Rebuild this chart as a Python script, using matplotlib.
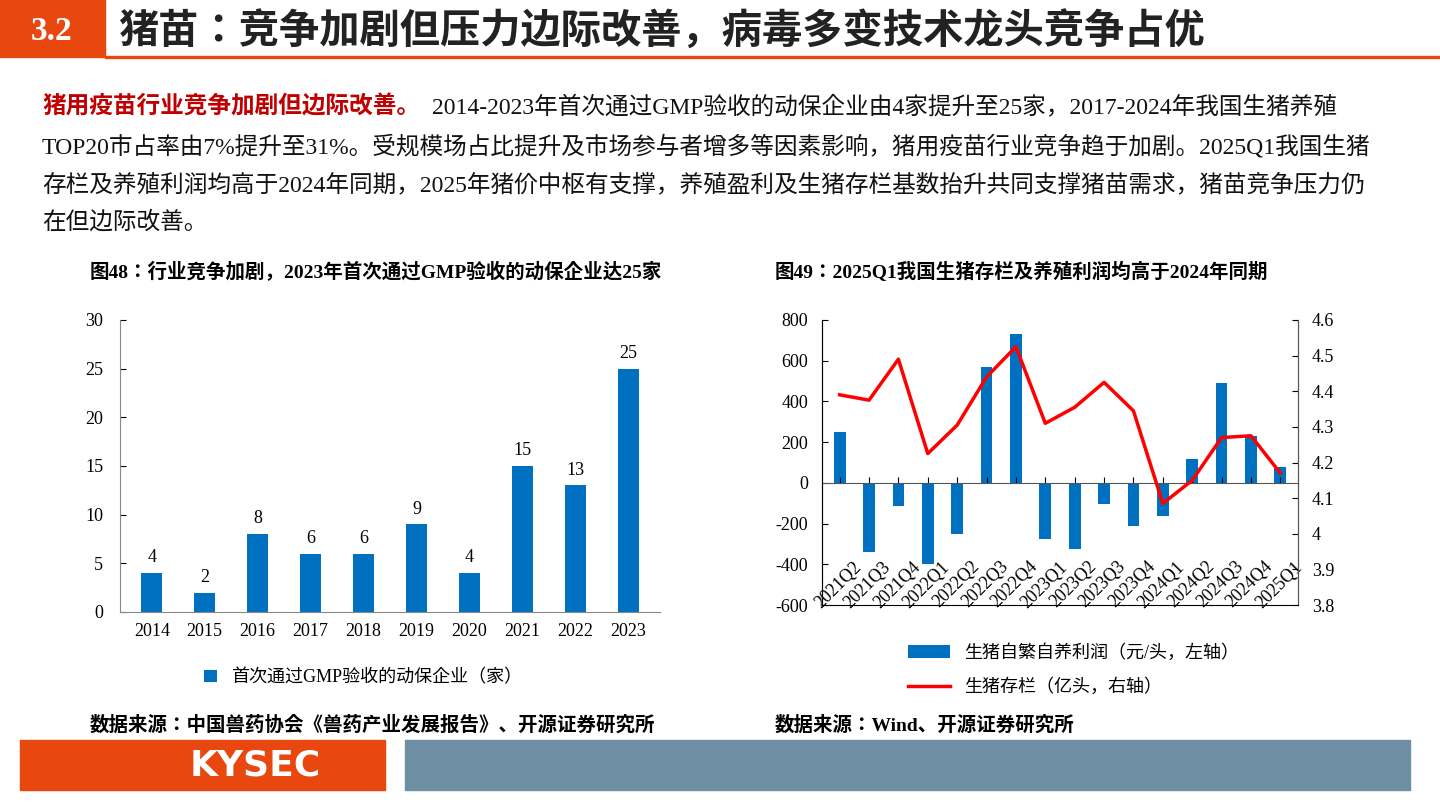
import matplotlib
matplotlib.use("Agg")
import matplotlib.pyplot as plt
from matplotlib.patches import Rectangle
from matplotlib import font_manager as fm
import numpy as np

cjk = None
for f in fm.fontManager.ttflist:
    if 'CJK' in f.name and 'SC' in f.name:
        cjk = f.name; break
if cjk is None:
    for f in fm.fontManager.ttflist:
        if 'CJK' in f.name:
            cjk = f.name; break
plt.rcParams['font.family'] = ['Liberation Serif', cjk]
plt.rcParams['axes.unicode_minus'] = False

years = ['2014','2015','2016','2017','2018','2019','2020','2021','2022','2023']
firms = [4, 2, 8, 6, 6, 9, 4, 15, 13, 25]

quarters = ['2021Q2','2021Q3','2021Q4','2022Q1','2022Q2','2022Q3','2022Q4','2023Q1',
            '2023Q2','2023Q3','2023Q4','2024Q1','2024Q2','2024Q3','2024Q4','2025Q1']
profit = [250, -340, -115, -400, -250, 570, 730, -275, -325, -105, -210, -165, 115, 490, 228, 80]
stock = [4.39, 4.375, 4.49, 4.225, 4.305, 4.44, 4.525, 4.31, 4.355, 4.425, 4.345, 4.085, 4.15, 4.27, 4.275, 4.17]

W, H = 1440, 810
fig = plt.figure(figsize=(14.4, 8.1), dpi=100)
def fx(x): return x / W
def fy(y): return 1 - y / H

ORANGE = '#E8470F'
BLUE = '#0070C0'
fig.add_artist(Rectangle((0, fy(57)), fx(105), 57 / H, transform=fig.transFigure, color=ORANGE))
fig.add_artist(Rectangle((fx(105), fy(58)), 1 - fx(105), 2 / H, transform=fig.transFigure, color=ORANGE))
fig.text(fx(52), fy(32), '3.2', color='white', fontsize=24, fontweight='bold', ha='center', va='center')
fig.text(fx(118), fy(33), '猪苗：竞争加剧但压力边际改善，病毒多变技术龙头竞争占优', fontsize=29,
         fontweight='bold', ha='left', va='center', color='#222222')

lines = [
 ('猪用疫苗行业竞争加剧但边际改善。', '2014-2023年首次通过GMP验收的动保企业由4家提升至25家，2017-2024年我国生猪养殖'),
 ('', 'TOP20市占率由7%提升至31%。受规模场占比提升及市场参与者增多等因素影响，猪用疫苗行业竞争趋于加剧。2025Q1我国生猪'),
 ('', '存栏及养殖利润均高于2024年同期，2025年猪价中枢有支撑，养殖盈利及生猪存栏基数抬升共同支撑猪苗需求，猪苗竞争压力仍'),
 ('', '在但边际改善。'),
]
ys = [107, 147, 185, 222]
for (red, rest), y in zip(lines, ys):
    if red:
        fig.text(fx(42), fy(y), red, color='#C00000', fontsize=17, fontweight='bold', va='center')
        fig.text(fx(432), fy(y), rest, fontsize=17, va='center', color='#111111')
    else:
        fig.text(fx(42), fy(y), rest, fontsize=17, va='center', color='#111111')

fig.text(fx(90), fy(272), '图48：行业竞争加剧，2023年首次通过GMP验收的动保企业达25家', fontsize=14, fontweight='bold', va='center')
fig.text(fx(775), fy(272), '图49：2025Q1我国生猪存栏及养殖利润均高于2024年同期', fontsize=14, fontweight='bold', va='center')
fig.text(fx(90), fy(725), '数据来源：中国兽药协会《兽药产业发展报告》、开源证券研究所', fontsize=14, fontweight='bold', va='center')
fig.text(fx(775), fy(725), '数据来源：Wind、开源证券研究所', fontsize=14, fontweight='bold', va='center')

fig.add_artist(Rectangle((fx(20), fy(790)), fx(365), 50 / H, transform=fig.transFigure, color=ORANGE))
fig.add_artist(Rectangle((fx(405), fy(790)), fx(1005), 50 / H, transform=fig.transFigure, color='#6E8FA3'))
fig.text(fx(255), fy(766), 'KYSEC', color='white', fontsize=26, fontweight='bold', ha='center', va='center',
         family='DejaVu Sans')

# left chart
ax1 = fig.add_axes([fx(120), fy(612), fx(540), (612 - 320) / H])
x = np.arange(len(years))
ax1.bar(x, firms, width=0.4, color=BLUE, label='首次通过GMP验收的动保企业（家）')
for xi, v in zip(x, firms):
    ax1.text(xi, v + 0.7, str(v), ha='center', va='bottom', fontsize=13)
ax1.set_ylim(0, 30)
ax1.set_yticks(range(0, 31, 5))
ax1.set_xlim(-0.6, len(years) - 0.4)
ax1.set_xticks(x)
ax1.set_xticklabels(years)
ax1.tick_params(labelsize=13, length=0, pad=8)
ax1.tick_params(axis='y', direction='in', length=4, pad=12)
for s in ['top', 'right']:
    ax1.spines[s].set_visible(False)
ax1.spines['left'].set_color('#888888')
ax1.spines['bottom'].set_color('#888888')
ax1.legend(loc='upper center', bbox_to_anchor=(0.45, -0.14), frameon=False, fontsize=13, handlelength=0.7)

# right chart
ax2 = fig.add_axes([fx(822), fy(605), fx(476), (605 - 320) / H])
q = np.arange(len(quarters))
ax2.bar(q, profit, width=0.4, color=BLUE, label='生猪自繁自养利润（元/头，左轴）')
ax2.set_ylim(-600, 800)
ax2.set_yticks(range(-600, 801, 200))
ax2.set_xlim(-0.6, len(quarters) - 0.4)
ax2.set_xticks(q)
ax2.set_xticklabels([])
ax2.tick_params(axis='x', length=4, direction='in')
ax2.tick_params(axis='y', labelsize=13, direction='in', length=4, pad=10)
ax2.spines['bottom'].set_position(('data', 0))
ax2.spines['top'].set_visible(False)
for s in ['left', 'right', 'bottom']:
    ax2.spines[s].set_color('#555555')
for qi, lab in zip(q, quarters):
    ax2.text(qi + 0.45, -370, lab, rotation=45, ha='right', va='top', rotation_mode='anchor', fontsize=13)
ax3 = ax2.twinx()
ax3.plot(q, stock, color='#FF0000', lw=2.5, label='生猪存栏（亿头，右轴）')
ax3.set_ylim(3.8, 4.6)
ax3.set_yticks([3.8, 3.9, 4.0, 4.1, 4.2, 4.3, 4.4, 4.5, 4.6])
ax3.set_yticklabels(['3.8', '3.9', '4', '4.1', '4.2', '4.3', '4.4', '4.5', '4.6'])
ax3.tick_params(labelsize=13, direction='in', length=4, pad=10)
ax3.spines['top'].set_visible(False)
ax3.spines['right'].set_color('#555555')
h1, l1 = ax2.get_legend_handles_labels()
h2, l2 = ax3.get_legend_handles_labels()
fig.legend(h1 + h2, l1 + l2, loc='upper left', bbox_to_anchor=(fx(892), fy(628)), frameon=False,
           fontsize=13, labelspacing=0.9, handlelength=2.3)

fig.savefig('out.png', dpi=100)
